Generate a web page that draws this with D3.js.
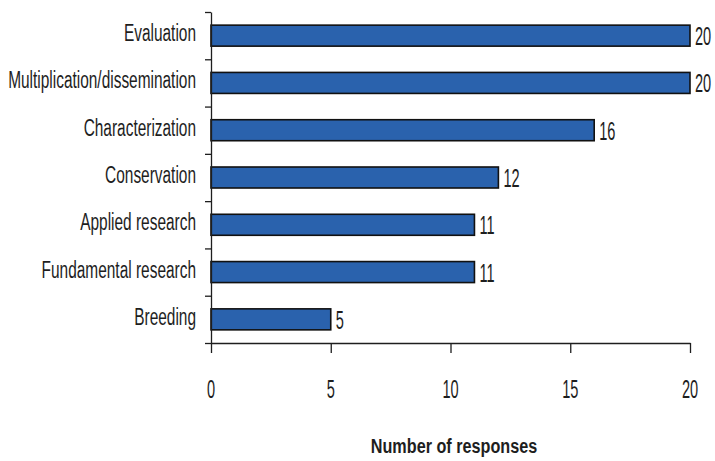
<!DOCTYPE html>
<html>
<head>
<meta charset="utf-8">
<script src="https://cdn.jsdelivr.net/npm/d3@7"></script>
<style>
  html, body { margin: 0; padding: 0; background: #fff; }
  svg { display: block; font-family: "Liberation Sans", Arial, sans-serif; }
</style>
</head>
<body>
<svg id="chart" width="715" height="461"></svg>
<script>
// Activities and number of responses for each
const categories = [
  "Evaluation",
  "Multiplication/dissemination",
  "Characterization",
  "Conservation",
  "Applied research",
  "Fundamental research",
  "Breeding"
];
const responses = [20, 20, 16, 12, 11, 11, 5];
const xTicks = [0, 5, 10, 15, 20];
const xTitle = "Number of responses";

(function draw() {
  const data = categories.map((c, i) => ({ name: c, value: responses[i] }));

  const svg = d3.select("#chart");
  const plotLeft = 211, plotRight = 690, plotTop = 12, plotBottom = 343;
  const ink = "#1e1e1e";

  const x = d3.scaleLinear().domain([0, 20]).range([plotLeft, plotRight]);
  const y = d3.scaleBand()
    .domain(categories)
    .range([plotTop, plotBottom])
    .paddingInner(0.556)
    .paddingOuter(0.278);

  // Bars
  svg.append("g")
    .selectAll("rect")
    .data(data)
    .join("rect")
    .attr("x", x(0))
    .attr("y", d => y(d.name))
    .attr("width", d => x(d.value) - x(0))
    .attr("height", y.bandwidth())
    .attr("fill", "#2a62ad")
    .attr("stroke", "#111")
    .attr("stroke-width", 1.6);

  // Left axis: vertical line with ticks at category boundaries
  const bounds = d3.scaleLinear().domain([0, categories.length]).range([plotTop, plotBottom]);
  const yAxis = svg.append("g")
    .attr("transform", `translate(${plotLeft},0)`)
    .call(d3.axisLeft(bounds).tickValues(d3.range(categories.length + 1))
      .tickSize(6).tickSizeOuter(0).tickFormat(""));
  yAxis.select(".domain").attr("stroke", ink).attr("stroke-width", 1.3);
  yAxis.selectAll(".tick line").attr("stroke", ink).attr("stroke-width", 1.3);

  // Bottom axis
  const xAxis = svg.append("g")
    .attr("transform", `translate(0,${plotBottom})`)
    .call(d3.axisBottom(x).tickValues(xTicks).tickSize(10).tickSizeOuter(0).tickFormat(""));
  xAxis.select(".domain").attr("stroke", ink).attr("stroke-width", 1.3);
  xAxis.selectAll(".tick line").attr("stroke", ink).attr("stroke-width", 1.3);

  // Condensed text helper
  function label(g, px, py, sx, txt, size, anchor, weight) {
    g.append("g")
      .attr("transform", `translate(${px},${py}) scale(${sx},1)`)
      .append("text")
      .attr("text-anchor", anchor)
      .attr("font-size", size)
      .attr("font-weight", weight || "normal")
      .attr("fill", ink)
      .text(txt);
  }

  // Category labels
  const catG = svg.append("g");
  data.forEach(d => {
    label(catG, 196, y(d.name) + y.bandwidth() / 2 + 5.5, 0.63, d.name, 24.5, "end");
  });

  // Value labels
  const valG = svg.append("g");
  data.forEach(d => {
    label(valG, x(d.value) + 5, y(d.name) + y.bandwidth() / 2 + 9.5, 0.56, d.value, 26, "start");
  });

  // X tick labels
  const tickG = svg.append("g");
  xTicks.forEach(t => {
    label(tickG, x(t), 398, 0.56, t, 26, "middle");
  });

  // Axis title
  label(svg.append("g"), 454, 452.5, 0.81, xTitle, 20, "middle", "bold");
})();
</script>
</body>
</html>
